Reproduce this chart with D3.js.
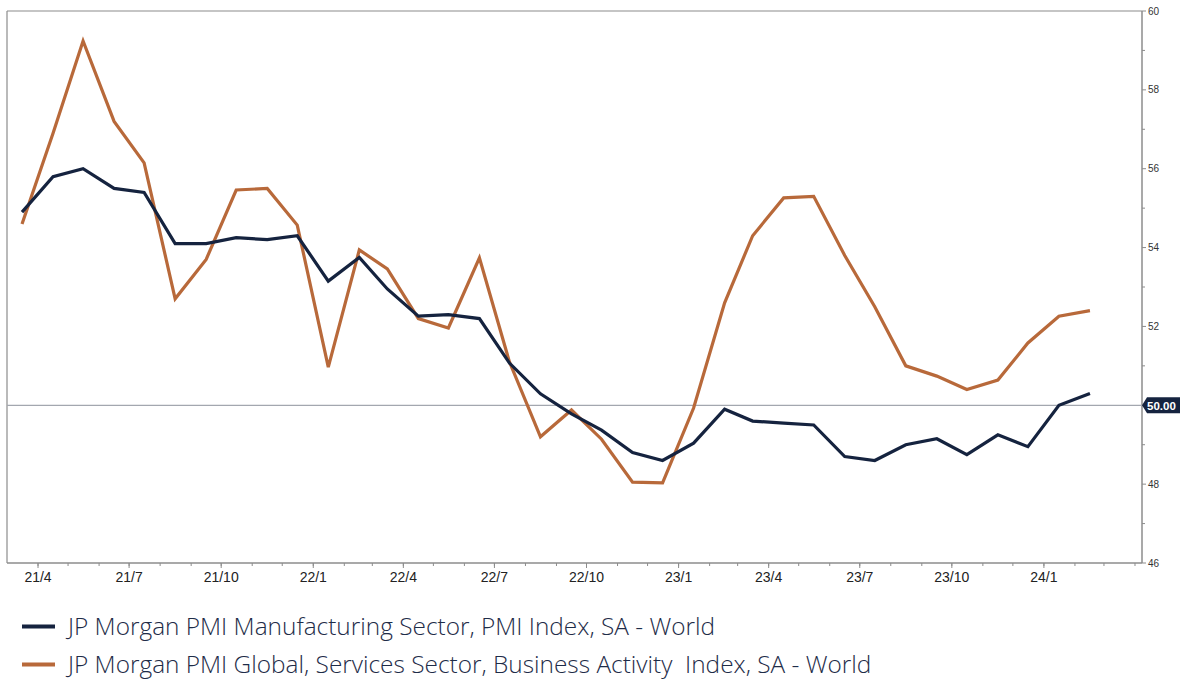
<!DOCTYPE html>
<html>
<head>
<meta charset="utf-8">
<script src="https://cdn.jsdelivr.net/npm/d3@7"></script>
<style>
  html, body { margin: 0; padding: 0; background: #fff; }
  svg { display: block; }
</style>
</head>
<body>
<svg id="chart" width="1180" height="679"></svg>
<script>
// Monthly observations, March 2021 – February 2024
const months = [
  "2021-03","2021-04","2021-05","2021-06","2021-07","2021-08","2021-09","2021-10","2021-11","2021-12",
  "2022-01","2022-02","2022-03","2022-04","2022-05","2022-06","2022-07","2022-08","2022-09","2022-10","2022-11","2022-12",
  "2023-01","2023-02","2023-03","2023-04","2023-05","2023-06","2023-07","2023-08","2023-09","2023-10","2023-11","2023-12",
  "2024-01","2024-02"
];
const manufacturing = [
  54.9, 55.8, 56.0, 55.5, 55.4, 54.1, 54.1, 54.25, 54.2, 54.3,
  53.15, 53.75, 52.95, 52.26, 52.3, 52.2, 51.07, 50.29, 49.78, 49.37, 48.8, 48.6,
  49.04, 49.9, 49.6, 49.55, 49.5, 48.7, 48.6, 49.0, 49.15, 48.75, 49.25, 48.95,
  50.0, 50.3
];
const services = [
  54.6, 56.9, 59.24, 57.2, 56.15, 52.7, 53.7, 55.46, 55.5, 54.57,
  50.97, 53.94, 53.46, 52.2, 51.96, 53.74, 51.1, 49.2, 49.88, 49.14, 48.05, 48.03,
  49.93, 52.6, 54.3, 55.26, 55.3, 53.8, 52.5, 51.0, 50.74, 50.4, 50.64, 51.58,
  52.26, 52.4
];
const seriesNames = [
  "JP Morgan PMI Manufacturing Sector, PMI Index, SA - World",
  "JP Morgan PMI Global, Services Sector, Business Activity  Index, SA - World"
];
const seriesColors = ["#15233f", "#b8693a"];
const yTicks = [46, 48, 50, 52, 54, 56, 58, 60];
const referenceLevel = 50;

const svg = d3.select("#chart");
const plotLeft = 7, plotRight = 1142, plotTop = 11, plotBottom = 563;

const parseMonth = d3.timeParse("%Y-%m");
// each observation is plotted mid-month
const dates = months.map(m => d3.timeDay.offset(parseMonth(m), 15));

const x = d3.scaleTime()
  .domain([new Date(2021, 2, 1), new Date(2024, 3, 8)])
  .range([plotLeft, plotRight]);
const y = d3.scaleLinear().domain([46, 60]).range([plotBottom, plotTop]);

const frameColor = "#8c8c8c";

// frame: top and left edges
svg.append("line").attr("x1", plotLeft).attr("x2", plotRight).attr("y1", plotTop).attr("y2", plotTop)
  .attr("stroke", frameColor).attr("stroke-width", 1.2);
svg.append("line").attr("x1", plotLeft).attr("x2", plotLeft).attr("y1", plotTop).attr("y2", plotBottom)
  .attr("stroke", frameColor).attr("stroke-width", 1.2);

// bottom axis: quarterly labels, monthly minor ticks
const quarterTicks = d3.timeMonth.range(new Date(2021, 3, 1), new Date(2024, 2, 1), 3);
const monthTicks = d3.timeMonth.range(new Date(2021, 3, 1), new Date(2024, 3, 2));
const xAxis = svg.append("g").attr("transform", `translate(0,${plotBottom})`);
xAxis.append("line").attr("x1", plotLeft).attr("x2", plotRight).attr("y1", 0).attr("y2", 0)
  .attr("stroke", frameColor).attr("stroke-width", 1.5);
xAxis.selectAll("line.minor").data(monthTicks).join("line").attr("class", "minor")
  .attr("x1", d => x(d)).attr("x2", d => x(d)).attr("y1", 0).attr("y2", 3)
  .attr("stroke", frameColor).attr("stroke-width", 1);
xAxis.selectAll("line.major").data(quarterTicks).join("line").attr("class", "major")
  .attr("x1", d => x(d)).attr("x2", d => x(d)).attr("y1", 0).attr("y2", 5)
  .attr("stroke", frameColor).attr("stroke-width", 1);
xAxis.selectAll("text").data(quarterTicks).join("text")
  .attr("x", d => x(d)).attr("y", 19)
  .attr("text-anchor", "middle")
  .attr("font-family", "Liberation Sans, Arial, sans-serif")
  .attr("font-size", 14).attr("fill", "#222")
  .text(d3.timeFormat("%y/%-m"));

// right axis
const yAxis = svg.append("g").attr("transform", `translate(${plotRight},0)`);
yAxis.append("line").attr("x1", 0).attr("x2", 0).attr("y1", plotTop).attr("y2", plotBottom)
  .attr("stroke", frameColor).attr("stroke-width", 1.5);
const yMinor = d3.range(47, 60, 2);
yAxis.selectAll("line.minor").data(yMinor).join("line").attr("class", "minor")
  .attr("x1", 0).attr("x2", 3).attr("y1", d => y(d)).attr("y2", d => y(d))
  .attr("stroke", frameColor);
yAxis.selectAll("line.major").data(yTicks).join("line").attr("class", "major")
  .attr("x1", 0).attr("x2", 4).attr("y1", d => y(d)).attr("y2", d => y(d))
  .attr("stroke", frameColor);
yAxis.selectAll("text").data(yTicks.filter(v => v !== referenceLevel)).join("text")
  .attr("x", 6).attr("y", d => y(d) + 3.5)
  .attr("font-family", "Liberation Sans, Arial, sans-serif")
  .attr("font-size", 10).attr("fill", "#333")
  .text(d => d);

// reference line at 50
svg.append("line")
  .attr("x1", plotLeft).attr("x2", plotRight)
  .attr("y1", y(referenceLevel)).attr("y2", y(referenceLevel))
  .attr("stroke", "#a3a7af").attr("stroke-width", 1.2);

// series lines
const line = d3.line().x((d, i) => x(dates[i])).y(d => y(d));
const seriesPaths = [manufacturing, services].map((vals, k) =>
  svg.append("path")
    .datum(vals)
    .attr("d", line)
    .attr("fill", "none")
    .attr("stroke", seriesColors[k])
    .attr("stroke-width", 3.2)
    .attr("stroke-linejoin", "miter")
);
// keep the navy series on top where they cross
seriesPaths[0].raise();

// value tag on the right axis
const tagY = y(referenceLevel);
const tag = svg.append("g").attr("transform", `translate(${plotRight},${tagY})`);
tag.append("path")
  .attr("d", "M0,0 L5,-8 L38,-8 L38,8 L5,8 Z")
  .attr("fill", "#15233f");
tag.append("text")
  .attr("x", 5).attr("y", 4.3)
  .attr("font-family", "Liberation Sans, Arial, sans-serif")
  .attr("font-weight", "bold")
  .attr("font-size", 11.5).attr("fill", "#fff")
  .text(referenceLevel.toFixed(2));

// legend
const legend = svg.append("g");
seriesNames.forEach((name, k) => {
  const ly = 626.5 + k * 38;
  legend.append("line")
    .attr("x1", 22).attr("x2", 55).attr("y1", ly).attr("y2", ly)
    .attr("stroke", seriesColors[k]).attr("stroke-width", 4);
  legend.append("text")
    .attr("x", 68).attr("y", ly + 8)
    .attr("font-family", "Open Sans, sans-serif")
    .attr("font-weight", 300)
    .attr("font-size", 24.4)
    .attr("fill", "#1e2c48")
    .style("white-space", "pre")
    .text(name);
});
</script>
</body>
</html>
